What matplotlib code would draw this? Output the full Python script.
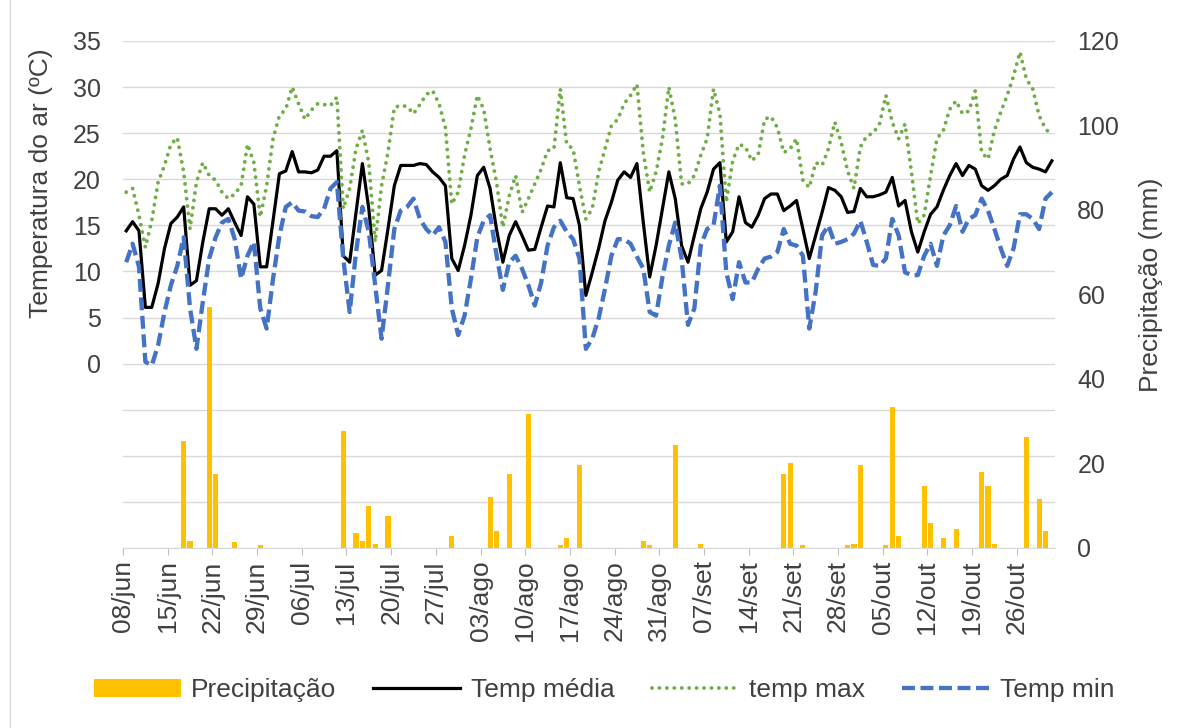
import numpy as np
import matplotlib
matplotlib.use('Agg')
import matplotlib.pyplot as plt
from matplotlib.patches import Rectangle

plt.rcParams['font.family'] = ['Liberation Sans', 'DejaVu Sans']

# Dados diários (08/jun a 31/out)
temp_media = [14.4, 15.4, 14.4, 6.1, 6.1, 8.7, 12.5, 15.2, 15.9, 17.0,
              8.5, 9.0, 13.2, 16.8, 16.8, 16.1, 16.8, 15.3, 13.9, 18.1,
              17.3, 10.5, 10.5, 15.5, 20.6, 20.9, 23.0, 20.8, 20.8, 20.7,
              21.0, 22.5, 22.5, 23.1, 11.7, 11.0, 16.4, 21.7, 16.8, 9.6,
              10.1, 14.6, 19.3, 21.5, 21.5, 21.5, 21.7, 21.6, 20.8, 20.2,
              19.3, 11.4, 10.1, 12.8, 16.1, 20.4, 21.3, 19.0, 14.6, 11.0,
              13.9, 15.4, 13.9, 12.3, 12.4, 14.8, 17.1, 17.0, 21.8, 18.0,
              17.9, 15.0, 7.4, 9.9, 12.5, 15.5, 17.5, 19.9, 20.8, 20.2,
              21.7, 15.3, 9.4, 12.8, 16.8, 20.8, 17.9, 12.8, 11.0, 13.9,
              16.8, 18.6, 21.1, 21.8, 13.2, 14.3, 18.1, 15.3, 14.8, 16.1,
              17.9, 18.4, 18.4, 16.6, 17.1, 17.7, 14.6, 11.4, 13.9, 16.4,
              19.1, 18.8, 18.1, 16.4, 16.5, 19.0, 18.1, 18.1, 18.3, 18.6,
              20.2, 17.1, 17.7, 14.3, 12.1, 14.3, 16.2, 17.0, 18.8, 20.4,
              21.7, 20.4, 21.5, 21.1, 19.3, 18.8, 19.3, 20.0, 20.4, 22.2,
              23.5, 21.8, 21.3, 21.1, 20.8, 22.0]

temp_max = [18.6, 19.0, 16.1, 12.6, 15.5, 19.7, 21.5, 23.8, 24.5, 20.8,
            14.6, 19.7, 21.8, 20.4, 19.9, 18.6, 17.9, 18.4, 19.3, 23.8,
            21.8, 15.9, 19.3, 24.4, 26.9, 27.6, 30.0, 28.2, 26.5, 27.5,
            28.2, 28.1, 28.0, 28.9, 16.8, 19.0, 23.3, 25.3, 21.8, 13.2,
            19.3, 22.9, 27.8, 28.0, 27.9, 27.1, 28.1, 29.2, 29.6, 28.2,
            25.6, 17.3, 18.6, 22.6, 25.5, 29.1, 27.6, 23.3, 19.7, 14.8,
            18.2, 20.4, 16.4, 17.9, 19.5, 21.1, 23.1, 23.3, 29.8, 23.8,
            23.3, 19.3, 15.7, 16.8, 20.8, 23.3, 25.8, 26.5, 28.2, 29.1,
            30.3, 22.9, 18.6, 20.8, 24.4, 30.0, 26.5, 19.5, 19.5, 20.4,
            22.6, 24.4, 29.8, 27.1, 17.5, 22.0, 23.8, 23.5, 22.0, 22.7,
            26.5, 26.8, 25.6, 22.9, 23.3, 24.4, 19.9, 19.1, 21.8, 21.5,
            23.3, 26.2, 24.0, 20.9, 19.0, 23.5, 24.7, 25.0, 26.0, 29.1,
            26.2, 24.4, 26.0, 20.8, 15.2, 16.1, 20.4, 24.4, 25.3, 27.6,
            28.5, 27.1, 27.4, 29.6, 22.9, 22.2, 25.3, 27.3, 29.1, 31.2,
            33.8, 30.9, 29.8, 26.9, 25.5, 24.7]

temp_min = [11.0, 13.0, 10.5, 0.2, -0.2, 2.0, 5.6, 8.5, 10.6, 13.7,
            6.0, 1.6, 6.7, 11.4, 13.7, 15.3, 15.7, 13.5, 9.2, 11.7,
            13.2, 6.0, 3.8, 9.2, 13.9, 17.0, 17.5, 16.6, 16.5, 16.0,
            15.9, 16.8, 19.0, 19.7, 11.4, 5.6, 12.1, 17.0, 14.3, 8.5,
            2.7, 8.5, 14.6, 16.6, 17.0, 17.9, 15.7, 14.6, 13.9, 14.8,
            13.2, 6.0, 3.1, 5.2, 9.2, 13.7, 15.5, 16.1, 11.8, 8.0,
            11.0, 11.7, 10.3, 8.5, 6.3, 8.8, 12.8, 14.8, 15.5, 14.3,
            13.5, 11.4, 1.6, 2.7, 4.9, 8.1, 11.7, 13.5, 13.5, 13.0,
            11.6, 10.3, 5.6, 5.2, 9.4, 12.8, 15.3, 11.4, 4.2, 6.0,
            12.8, 14.6, 15.0, 19.3, 9.9, 7.0, 11.0, 8.8, 8.8, 10.3,
            11.4, 11.6, 12.1, 14.6, 13.0, 12.8, 11.7, 3.8, 7.8, 13.9,
            15.0, 13.0, 13.2, 13.5, 14.1, 15.5, 13.2, 10.7, 10.6, 11.4,
            15.7, 13.9, 9.9, 9.6, 9.6, 11.7, 13.0, 10.6, 13.9, 15.0,
            17.1, 14.3, 15.7, 16.1, 17.9, 16.6, 14.6, 12.5, 10.6, 12.5,
            16.2, 16.2, 15.7, 14.6, 17.9, 18.6]

precipitacao = [0, 0, 0, 0, 0, 0, 0, 0, 0, 25.4,
                1.7, 0, 0, 57.0, 17.4, 0, 0, 1.3, 0, 0,
                0, 0.6, 0, 0, 0, 0, 0, 0, 0, 0,
                0, 0, 0, 0, 27.6, 0, 3.5, 1.7, 9.9, 0.9,
                0, 7.6, 0, 0, 0, 0, 0, 0, 0, 0,
                0, 2.8, 0, 0, 0, 0, 0, 12.1, 4.1, 0,
                17.4, 0, 0, 31.6, 0, 0, 0, 0, 0.6, 2.3,
                0, 19.6, 0, 0, 0, 0, 0, 0, 0, 0,
                0, 1.7, 0.6, 0, 0, 0, 24.4, 0, 0, 0,
                0.9, 0, 0, 0, 0, 0, 0, 0, 0, 0,
                0, 0, 0, 17.4, 20.0, 0, 0.6, 0, 0, 0,
                0, 0, 0, 0.6, 0.9, 19.6, 0, 0, 0, 0.6,
                33.4, 2.8, 0, 0, 0, 14.7, 5.8, 0, 2.3, 0,
                4.5, 0, 0, 0, 17.9, 14.7, 0.9, 0, 0, 0,
                0, 26.3, 0, 11.6, 4.1, 0]

# rótulos do eixo x (a cada 7 dias)
datas = ['08/jun', '15/jun', '22/jun', '29/jun', '06/jul', '13/jul', '20/jul',
         '27/jul', '03/ago', '10/ago', '17/ago', '24/ago', '31/ago', '07/set',
         '14/set', '21/set', '28/set', '05/out', '12/out', '19/out', '26/out']

n_dias = len(temp_media)
x = np.arange(n_dias) + 0.5

fig = plt.figure(figsize=(11.84, 7.28), dpi=100)
ax = fig.add_axes([0.1039, 0.2473, 0.7872, 0.6964])
ax2 = ax.twinx()

# borda do gráfico
fig.patches.append(Rectangle((10 / 1184, -0.01), 1.1, 1.02, transform=fig.transFigure,
                             fill=False, edgecolor='#D9D9D9', lw=1))

# linhas de temperatura
l_media, = ax.plot(x, temp_media, color='black', lw=2.3, label='Temp média')
l_max, = ax.plot(x, temp_max, color='#70AD47', lw=2.8, linestyle=(0, (0.01, 1.9)),
                 dash_capstyle='round', label='temp max')
l_min, = ax.plot(x, temp_min, color='#4472C4', lw=3.1, linestyle=(0, (3.0, 1.3)),
                 label='Temp min')

# barras de precipitação
barras = ax2.bar(x, precipitacao, width=0.8, color='#FFC000', label='Precipitação')

ax.set_xlim(0, n_dias)
ax.set_ylim(-20, 35)
ax2.set_ylim(0, 120)

yt = np.arange(-20, 36, 5)
ax.set_yticks(yt)
ax.set_yticklabels([str(v) if v >= 0 else '' for v in yt])
ax.grid(axis='y', color='#D9D9D9', lw=1)
ax.set_axisbelow(True)
ax2.set_yticks(np.arange(0, 121, 20))

ax.set_xticks(np.arange(0, n_dias, 7)[:len(datas)])
ax.set_xticklabels(datas, rotation=90)

ax.tick_params(axis='y', length=0, pad=16, labelsize=18, labelcolor='#404040')
ax2.tick_params(axis='y', length=0, pad=16, labelsize=18, labelcolor='#404040')
ax.tick_params(axis='x', length=5, color='#BFBFBF', pad=4, labelsize=19, labelcolor='#404040')

for a in (ax, ax2):
    for s in ['top', 'left', 'right']:
        a.spines[s].set_visible(False)
    a.spines['bottom'].set_color('#D9D9D9')
ax2.spines['bottom'].set_visible(False)

ax.set_ylabel('Temperatura do ar (ºC)', fontsize=19, color='#404040')
ax.yaxis.set_label_coords(-0.075, 0.72)
ax2.set_ylabel('Precipitação (mm)', fontsize=19, color='#404040')
ax2.yaxis.set_label_coords(1.09, 0.52)

fig.legend([barras, l_media, l_max, l_min],
           ['Precipitação', 'Temp média', 'temp max', 'Temp min'],
           loc='center', bbox_to_anchor=(604 / 1184, 1 - 690 / 728), ncol=4,
           frameon=False, fontsize=19, handlelength=3.3, handletextpad=0.4,
           columnspacing=1.4, labelcolor='#404040')

fig.savefig('out.png', dpi=100)
